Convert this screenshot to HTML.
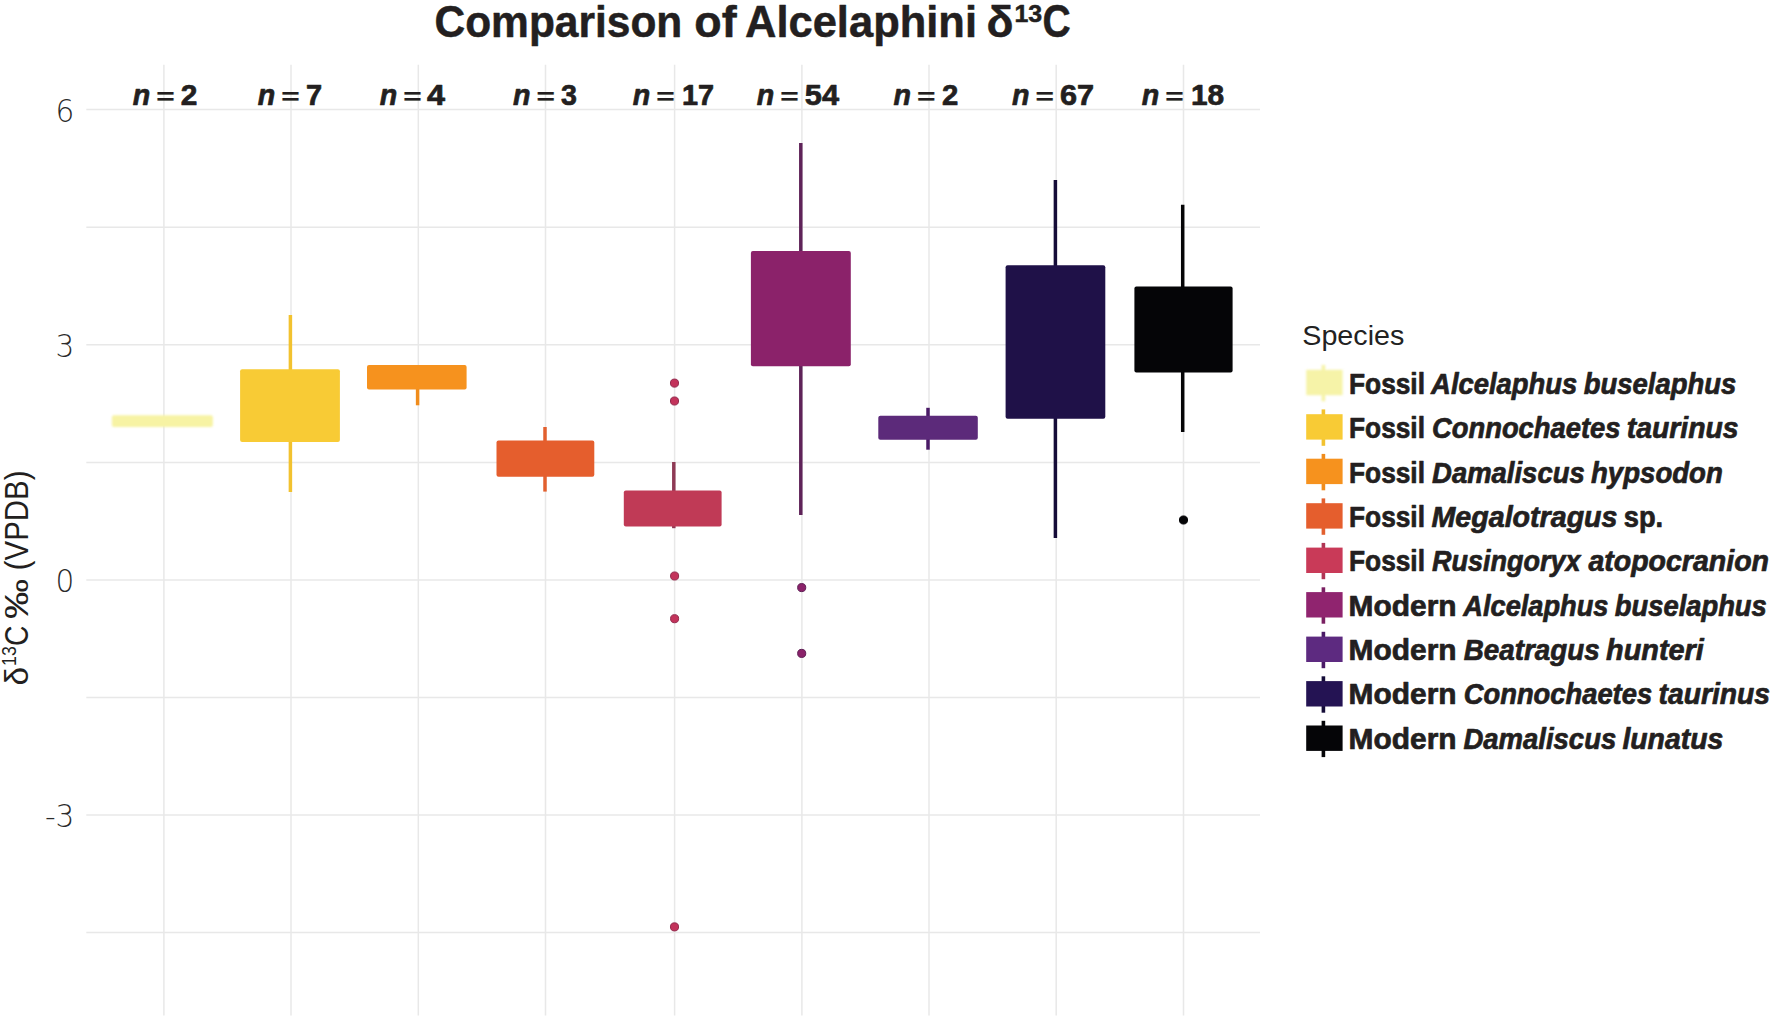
<!DOCTYPE html>
<html lang="en"><head><meta charset="utf-8"><title>Comparison of Alcelaphini δ13C</title>
<style>html,body{margin:0;padding:0;background:#fff}body{width:1772px;height:1021px;overflow:hidden}svg{display:block}
text{font-family:"Liberation Sans",Arial,sans-serif}
.b{font-weight:700}.bi{font-weight:700;font-style:italic}.hv{stroke:#231f20;stroke-width:.7;stroke-linejoin:round}.soft{filter:blur(.9px)}.hv2{stroke:#231f20;stroke-width:.5;stroke-linejoin:round}
</style></head><body>
<svg width="1772" height="1021" viewBox="0 0 1772 1021">
<rect width="1772" height="1021" fill="#fff"/>
<g stroke="#e8e8e8" stroke-width="1.5" fill="none">
<line x1="86.3" y1="109.4" x2="1260" y2="109.4"/>
<line x1="86.3" y1="227.2" x2="1260" y2="227.2"/>
<line x1="86.3" y1="344.8" x2="1260" y2="344.8"/>
<line x1="86.3" y1="462.4" x2="1260" y2="462.4"/>
<line x1="86.3" y1="580.0" x2="1260" y2="580.0"/>
<line x1="86.3" y1="697.5" x2="1260" y2="697.5"/>
<line x1="86.3" y1="815.0" x2="1260" y2="815.0"/>
<line x1="86.3" y1="932.5" x2="1260" y2="932.5"/>
<line x1="163.9" y1="64.8" x2="163.9" y2="1015.4"/>
<line x1="291.0" y1="64.8" x2="291.0" y2="1015.4"/>
<line x1="418.3" y1="64.8" x2="418.3" y2="1015.4"/>
<line x1="545.5" y1="64.8" x2="545.5" y2="1015.4"/>
<line x1="674.6" y1="64.8" x2="674.6" y2="1015.4"/>
<line x1="801.9" y1="64.8" x2="801.9" y2="1015.4"/>
<line x1="929.0" y1="64.8" x2="929.0" y2="1015.4"/>
<line x1="1056.2" y1="64.8" x2="1056.2" y2="1015.4"/>
<line x1="1183.5" y1="64.8" x2="1183.5" y2="1015.4"/>
</g>
<rect x="111.9" y="415.2" width="101.0" height="11.9" rx="2" fill="#f7f3a4" class="soft"/>
<line x1="290.4" y1="315.0" x2="290.4" y2="492.0" stroke="#f2c22f" stroke-width="3.5"/>
<rect x="240.1" y="369.2" width="99.8" height="72.7" rx="2" fill="#f8cb35"/>
<line x1="417.6" y1="365.1" x2="417.6" y2="405.3" stroke="#f08c1c" stroke-width="3.5"/>
<rect x="367.0" y="365.1" width="99.6" height="24.4" rx="2" fill="#f6921e"/>
<line x1="545.0" y1="427.0" x2="545.0" y2="491.6" stroke="#e2602f" stroke-width="3.5"/>
<rect x="496.5" y="440.6" width="97.8" height="36.1" rx="2" fill="#e55e2d"/>
<line x1="673.8" y1="462.0" x2="673.8" y2="528.2" stroke="#8e3a55" stroke-width="3.5"/>
<rect x="623.8" y="490.5" width="97.8" height="36.1" rx="2" fill="#c03a56"/>
<line x1="800.8" y1="143.0" x2="800.8" y2="515.1" stroke="#5f2359" stroke-width="3.5"/>
<rect x="750.9" y="250.9" width="99.9" height="115.4" rx="2" fill="#8b226a"/>
<line x1="928.0" y1="407.8" x2="928.0" y2="449.7" stroke="#4a1a66" stroke-width="3.5"/>
<rect x="878.3" y="415.8" width="99.5" height="24.0" rx="2" fill="#5c2a7a"/>
<line x1="1055.4" y1="179.9" x2="1055.4" y2="538.1" stroke="#150c38" stroke-width="3.5"/>
<rect x="1005.6" y="265.3" width="99.7" height="153.4" rx="2" fill="#1f1148"/>
<line x1="1182.7" y1="204.7" x2="1182.7" y2="432.0" stroke="#050507" stroke-width="3.5"/>
<rect x="1134.4" y="286.4" width="98.2" height="86.1" rx="2" fill="#050507"/>
<circle cx="674.5" cy="383.1" r="4.05" fill="#c3335b" stroke="#922a4d" stroke-width="1"/>
<circle cx="674.5" cy="401.0" r="4.05" fill="#c3335b" stroke="#922a4d" stroke-width="1"/>
<circle cx="674.6" cy="576.0" r="4.05" fill="#c3335b" stroke="#922a4d" stroke-width="1"/>
<circle cx="674.6" cy="618.7" r="4.05" fill="#c3335b" stroke="#922a4d" stroke-width="1"/>
<circle cx="674.5" cy="926.9" r="4.05" fill="#c3335b" stroke="#922a4d" stroke-width="1"/>
<circle cx="801.7" cy="587.6" r="4.05" fill="#8b226a" stroke="#5f1f55" stroke-width="1"/>
<circle cx="801.7" cy="653.4" r="4.05" fill="#8b226a" stroke="#5f1f55" stroke-width="1"/>
<circle cx="1183.5" cy="520.0" r="4.05" fill="#050507" stroke="#050507" stroke-width="1"/>
<text transform="translate(74.4,121.5) scale(.93,1)" x="0" y="0" font-size="31.8" font-weight="200" text-anchor="end" fill="#2b2b2b" style="font-family:'DejaVu Sans','Liberation Sans',sans-serif">6</text>
<text transform="translate(74.4,356.9) scale(.93,1)" x="0" y="0" font-size="31.8" font-weight="200" text-anchor="end" fill="#2b2b2b" style="font-family:'DejaVu Sans','Liberation Sans',sans-serif">3</text>
<text transform="translate(74.4,592.1) scale(.93,1)" x="0" y="0" font-size="31.8" font-weight="200" text-anchor="end" fill="#2b2b2b" style="font-family:'DejaVu Sans','Liberation Sans',sans-serif">0</text>
<text transform="translate(74.4,827.1) scale(.93,1)" x="0" y="0" font-size="31.8" font-weight="200" text-anchor="end" fill="#2b2b2b" style="font-family:'DejaVu Sans','Liberation Sans',sans-serif">-3</text>
<g transform="translate(28.0,684.5) rotate(-90)" fill="#231f20">
<text x="-1.0" y="0.0" font-size="32.8" textLength="18.6" lengthAdjust="spacingAndGlyphs">δ</text>
<text x="18.6" y="-12.1" font-size="19.3" textLength="19.8" lengthAdjust="spacingAndGlyphs">13</text>
<text x="38.6" y="0.0" font-size="32.8" textLength="20.4" lengthAdjust="spacingAndGlyphs">C</text>
<text x="65.5" y="0.0" font-size="32.8" textLength="40.1" lengthAdjust="spacingAndGlyphs">‰</text>
<text x="114.3" y="0.0" font-size="32.8" textLength="99.7" lengthAdjust="spacingAndGlyphs">(VPDB)</text>
</g>
<text class="b hv2" x="434.5" y="36.9" font-size="44.4" textLength="247.8" lengthAdjust="spacingAndGlyphs" fill="#231f20">Comparison</text>
<text class="b hv2" x="694.3" y="36.9" font-size="44.4" textLength="42.3" lengthAdjust="spacingAndGlyphs" fill="#231f20">of</text>
<text class="b hv2" x="745.0" y="36.9" font-size="44.4" textLength="232.0" lengthAdjust="spacingAndGlyphs" fill="#231f20">Alcelaphini</text>
<text class="b hv2" x="986.5" y="37.2" font-size="44.0" textLength="27.0" lengthAdjust="spacingAndGlyphs" fill="#231f20">δ</text>
<text class="b hv2" x="1014.5" y="21.6" font-size="24.0" textLength="27.7" lengthAdjust="spacingAndGlyphs" fill="#231f20">13</text>
<text class="b hv2" x="1042.6" y="36.9" font-size="46.0" textLength="28.2" lengthAdjust="spacingAndGlyphs" fill="#231f20">C</text>
<text class="bi hv" x="132.7" y="104.6" font-size="28.6" fill="#231f20">n</text>
<text class="b" transform="translate(156.2,104.0) scale(1,.7)" x="0" y="0" font-size="31.6" stroke="#231f20" stroke-width=".3" fill="#231f20">=</text>
<text class="b hv" x="180.8" y="104.6" font-size="28.8" textLength="16.6" lengthAdjust="spacingAndGlyphs" fill="#231f20">2</text>
<text class="bi hv" x="257.8" y="104.6" font-size="28.6" fill="#231f20">n</text>
<text class="b" transform="translate(281.3,104.0) scale(1,.7)" x="0" y="0" font-size="31.6" stroke="#231f20" stroke-width=".3" fill="#231f20">=</text>
<text class="b hv" x="306.1" y="104.6" font-size="28.8" textLength="16.1" lengthAdjust="spacingAndGlyphs" fill="#231f20">7</text>
<text class="bi hv" x="379.7" y="104.6" font-size="28.6" fill="#231f20">n</text>
<text class="b" transform="translate(403.2,104.0) scale(1,.7)" x="0" y="0" font-size="31.6" stroke="#231f20" stroke-width=".3" fill="#231f20">=</text>
<text class="b hv" x="426.9" y="104.6" font-size="28.8" textLength="18.0" lengthAdjust="spacingAndGlyphs" fill="#231f20">4</text>
<text class="bi hv" x="512.9" y="104.6" font-size="28.6" fill="#231f20">n</text>
<text class="b" transform="translate(536.4,104.0) scale(1,.7)" x="0" y="0" font-size="31.6" stroke="#231f20" stroke-width=".3" fill="#231f20">=</text>
<text class="b hv" x="561.0" y="104.6" font-size="28.8" textLength="15.9" lengthAdjust="spacingAndGlyphs" fill="#231f20">3</text>
<text class="bi hv" x="632.8" y="104.6" font-size="28.6" fill="#231f20">n</text>
<text class="b" transform="translate(656.3,104.0) scale(1,.7)" x="0" y="0" font-size="31.6" stroke="#231f20" stroke-width=".3" fill="#231f20">=</text>
<text class="b hv" x="681.9" y="104.6" font-size="28.8" textLength="32.1" lengthAdjust="spacingAndGlyphs" fill="#231f20">17</text>
<text class="bi hv" x="756.7" y="104.6" font-size="28.6" fill="#231f20">n</text>
<text class="b" transform="translate(780.2,104.0) scale(1,.7)" x="0" y="0" font-size="31.6" stroke="#231f20" stroke-width=".3" fill="#231f20">=</text>
<text class="b hv" x="804.8" y="104.6" font-size="28.8" textLength="34.2" lengthAdjust="spacingAndGlyphs" fill="#231f20">54</text>
<text class="bi hv" x="893.5" y="104.6" font-size="28.6" fill="#231f20">n</text>
<text class="b" transform="translate(917.0,104.0) scale(1,.7)" x="0" y="0" font-size="31.6" stroke="#231f20" stroke-width=".3" fill="#231f20">=</text>
<text class="b hv" x="942.0" y="104.6" font-size="28.8" textLength="16.3" lengthAdjust="spacingAndGlyphs" fill="#231f20">2</text>
<text class="bi hv" x="1011.9" y="104.6" font-size="28.6" fill="#231f20">n</text>
<text class="b" transform="translate(1035.4,104.0) scale(1,.7)" x="0" y="0" font-size="31.6" stroke="#231f20" stroke-width=".3" fill="#231f20">=</text>
<text class="b hv" x="1060.0" y="104.6" font-size="28.8" textLength="34.1" lengthAdjust="spacingAndGlyphs" fill="#231f20">67</text>
<text class="bi hv" x="1141.8" y="104.6" font-size="28.6" fill="#231f20">n</text>
<text class="b" transform="translate(1165.3,104.0) scale(1,.7)" x="0" y="0" font-size="31.6" stroke="#231f20" stroke-width=".3" fill="#231f20">=</text>
<text class="b hv" x="1190.9" y="104.6" font-size="28.8" textLength="33.2" lengthAdjust="spacingAndGlyphs" fill="#231f20">18</text>
<text x="1302.3" y="345.2" font-size="27.8" textLength="102" lengthAdjust="spacingAndGlyphs" fill="#222">Species</text>
<g class="soft">
<line x1="1323.4" y1="364.9" x2="1323.4" y2="401.3" stroke="#f6f3a8" stroke-width="3.6"/>
<rect x="1306.2" y="369.8" width="36.4" height="25.4" fill="#f6f3a8"/>
</g>
<text class="b hv" x="1349.0" y="393.9" font-size="28.6" textLength="76.0" lengthAdjust="spacingAndGlyphs" fill="#231f20">Fossil</text>
<text class="bi hv" x="1431.1" y="393.9" font-size="28.6" textLength="146.2" lengthAdjust="spacingAndGlyphs" fill="#231f20">Alcelaphus</text>
<text class="bi hv" x="1583.7" y="393.9" font-size="28.6" textLength="152.6" lengthAdjust="spacingAndGlyphs" fill="#231f20">buselaphus</text>
<g>
<line x1="1323.4" y1="409.4" x2="1323.4" y2="445.8" stroke="#f2c22f" stroke-width="3.6"/>
<rect x="1306.2" y="414.2" width="36.4" height="25.4" fill="#f8cb35"/>
</g>
<text class="b hv" x="1349.0" y="438.2" font-size="28.6" textLength="76.0" lengthAdjust="spacingAndGlyphs" fill="#231f20">Fossil</text>
<text class="bi hv" x="1432.1" y="438.2" font-size="28.6" textLength="188.3" lengthAdjust="spacingAndGlyphs" fill="#231f20">Connochaetes</text>
<text class="bi hv" x="1626.8" y="438.2" font-size="28.6" textLength="111.8" lengthAdjust="spacingAndGlyphs" fill="#231f20">taurinus</text>
<g>
<line x1="1323.4" y1="453.9" x2="1323.4" y2="490.3" stroke="#f08c1c" stroke-width="3.6"/>
<rect x="1306.2" y="458.7" width="36.4" height="25.4" fill="#f6921e"/>
</g>
<text class="b hv" x="1349.0" y="482.5" font-size="28.6" textLength="76.0" lengthAdjust="spacingAndGlyphs" fill="#231f20">Fossil</text>
<text class="bi hv" x="1432.1" y="482.5" font-size="28.6" textLength="152.6" lengthAdjust="spacingAndGlyphs" fill="#231f20">Damaliscus</text>
<text class="bi hv" x="1591.0" y="482.5" font-size="28.6" textLength="131.8" lengthAdjust="spacingAndGlyphs" fill="#231f20">hypsodon</text>
<g>
<line x1="1323.4" y1="498.4" x2="1323.4" y2="534.8" stroke="#e2602f" stroke-width="3.6"/>
<rect x="1306.2" y="503.2" width="36.4" height="25.4" fill="#e55e2d"/>
</g>
<text class="b hv" x="1349.0" y="526.9" font-size="28.6" textLength="76.0" lengthAdjust="spacingAndGlyphs" fill="#231f20">Fossil</text>
<text class="bi hv" x="1431.5" y="526.9" font-size="28.6" textLength="186.0" lengthAdjust="spacingAndGlyphs" fill="#231f20">Megalotragus</text>
<text class="b hv" x="1623.8" y="526.9" font-size="28.6" textLength="39.4" lengthAdjust="spacingAndGlyphs" fill="#231f20">sp.</text>
<g>
<line x1="1323.4" y1="542.9" x2="1323.4" y2="579.2" stroke="#b03554" stroke-width="3.6"/>
<rect x="1306.2" y="547.6" width="36.4" height="25.4" fill="#c93a58"/>
</g>
<text class="b hv" x="1349.0" y="571.2" font-size="28.6" textLength="76.0" lengthAdjust="spacingAndGlyphs" fill="#231f20">Fossil</text>
<text class="bi hv" x="1432.0" y="571.2" font-size="28.6" textLength="148.5" lengthAdjust="spacingAndGlyphs" fill="#231f20">Rusingoryx</text>
<text class="bi hv" x="1588.4" y="571.2" font-size="28.6" textLength="180.6" lengthAdjust="spacingAndGlyphs" fill="#231f20">atopocranion</text>
<g>
<line x1="1323.4" y1="587.3" x2="1323.4" y2="623.7" stroke="#7a2062" stroke-width="3.6"/>
<rect x="1306.2" y="592.1" width="36.4" height="25.4" fill="#90246f"/>
</g>
<text class="b hv" x="1348.6" y="615.5" font-size="28.6" textLength="108.0" lengthAdjust="spacingAndGlyphs" fill="#231f20">Modern</text>
<text class="bi hv" x="1463.3" y="615.5" font-size="28.6" textLength="145.2" lengthAdjust="spacingAndGlyphs" fill="#231f20">Alcelaphus</text>
<text class="bi hv" x="1614.8" y="615.5" font-size="28.6" textLength="152.0" lengthAdjust="spacingAndGlyphs" fill="#231f20">buselaphus</text>
<g>
<line x1="1323.4" y1="631.8" x2="1323.4" y2="668.2" stroke="#4a1a66" stroke-width="3.6"/>
<rect x="1306.2" y="636.6" width="36.4" height="25.4" fill="#5d2a80"/>
</g>
<text class="b hv" x="1348.6" y="659.8" font-size="28.6" textLength="108.0" lengthAdjust="spacingAndGlyphs" fill="#231f20">Modern</text>
<text class="bi hv" x="1463.7" y="659.8" font-size="28.6" textLength="135.9" lengthAdjust="spacingAndGlyphs" fill="#231f20">Beatragus</text>
<text class="bi hv" x="1606.1" y="659.8" font-size="28.6" textLength="97.7" lengthAdjust="spacingAndGlyphs" fill="#231f20">hunteri</text>
<g>
<line x1="1323.4" y1="676.3" x2="1323.4" y2="712.7" stroke="#150c38" stroke-width="3.6"/>
<rect x="1306.2" y="681.1" width="36.4" height="25.4" fill="#241353"/>
</g>
<text class="b hv" x="1348.6" y="704.1" font-size="28.6" textLength="108.0" lengthAdjust="spacingAndGlyphs" fill="#231f20">Modern</text>
<text class="bi hv" x="1463.8" y="704.1" font-size="28.6" textLength="188.3" lengthAdjust="spacingAndGlyphs" fill="#231f20">Connochaetes</text>
<text class="bi hv" x="1658.6" y="704.1" font-size="28.6" textLength="111.5" lengthAdjust="spacingAndGlyphs" fill="#231f20">taurinus</text>
<g>
<line x1="1323.4" y1="720.8" x2="1323.4" y2="757.1" stroke="#050507" stroke-width="3.6"/>
<rect x="1306.2" y="725.5" width="36.4" height="25.4" fill="#050507"/>
</g>
<text class="b hv" x="1348.6" y="748.5" font-size="28.6" textLength="108.0" lengthAdjust="spacingAndGlyphs" fill="#231f20">Modern</text>
<text class="bi hv" x="1463.5" y="748.5" font-size="28.6" textLength="152.7" lengthAdjust="spacingAndGlyphs" fill="#231f20">Damaliscus</text>
<text class="bi hv" x="1622.4" y="748.5" font-size="28.6" textLength="100.9" lengthAdjust="spacingAndGlyphs" fill="#231f20">lunatus</text>
</svg></body></html>
